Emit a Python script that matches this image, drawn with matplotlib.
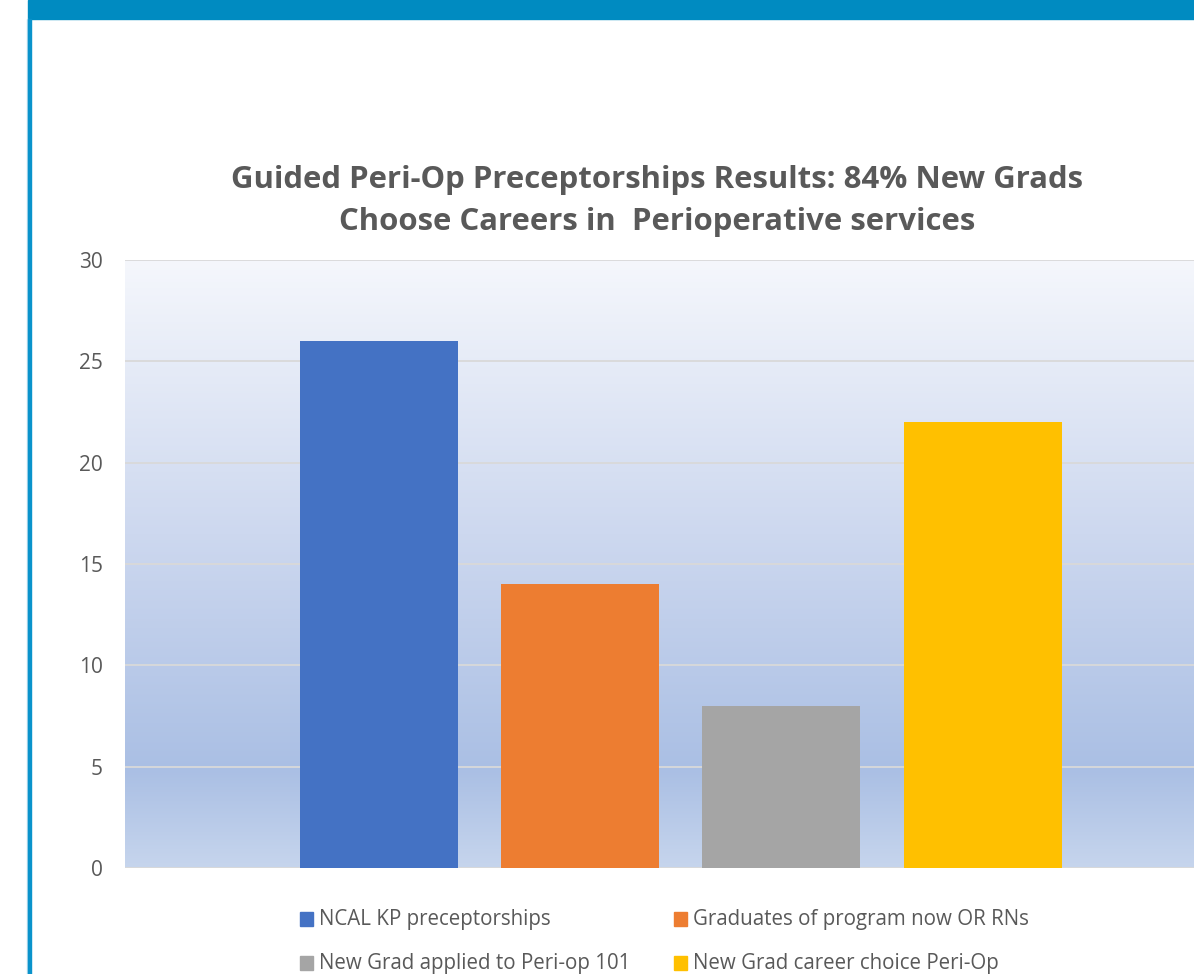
import matplotlib.pyplot as plt
import numpy as np
from matplotlib.colors import LinearSegmentedColormap
from matplotlib.patches import Rectangle

# data
labels = ["NCAL KP preceptorships", "Graduates of program now OR RNs",
          "New Grad applied to Peri-op 101", "New Grad career choice Peri-Op"]
values = [26, 14, 8, 22]
colors = ["#4472C4", "#ED7D31", "#A5A5A5", "#FFC000"]
yticks = [0, 5, 10, 15, 20, 25, 30]
title_lines = ["Guided Peri-Op Preceptorships Results: 84% New Grads",
               "Choose Careers in  Perioperative services"]

W, H = 1194, 974
fig = plt.figure(figsize=(W / 100, H / 100), dpi=100)
plt.rcParams['font.family'] = ['Open Sans', 'DejaVu Sans']

# slide frame: top band and left rule
fig.patches.append(Rectangle((28 / W, 1 - 19 / H), 1, 19 / H, transform=fig.transFigure,
                             color="#008BC1", zorder=0))
fig.patches.append(Rectangle((27 / W, 0), 1 / W, 1 - 19 / H, transform=fig.transFigure,
                             color="#B8DCEE", zorder=0))
fig.patches.append(Rectangle((28 / W, 0), 3 / W, 1 - 19 / H, transform=fig.transFigure,
                             color="#0A93CB", zorder=0))

ax = fig.add_axes([125 / W, 1 - 868 / H, 1 - 125 / W, (868 - 260) / H])

# gradient background
cmap = LinearSegmentedColormap.from_list(
    "bg", [(0.0, "#C6D5ED"), (0.16, "#AABFE4"), (0.55, "#CDD8EF"), (1.0, "#F5F7FC")])
xlim = (-1.26, 4.05)
grad = np.linspace(0, 1, 256).reshape(-1, 1)
ax.imshow(grad, cmap=cmap, origin="lower", aspect="auto",
          extent=(xlim[0], xlim[1], 0, 30), zorder=0)

x = np.arange(len(values))
ax.bar(x, values, width=0.785, color=colors, zorder=3)

ax.set_xlim(*xlim)
ax.set_ylim(0, 30)
ax.set_yticks(yticks)
for t in yticks:
    ax.axhline(t, color="#D9D9D9", lw=1.3, zorder=2)
ax.set_xticks([])
for s in ax.spines.values():
    s.set_visible(False)
ax.tick_params(axis="y", length=0, pad=16, labelsize=15, labelcolor="#595959")

for ty, line in zip([180, 222], title_lines):
    fig.text(657 / W, 1 - ty / H, line, ha="center", va="center", fontsize=22.4,
             fontweight="bold", color="#595959")

# legend, 2 x 2
col_x = [300, 674]
row_y = [919, 963]
for i, (lab, c) in enumerate(zip(labels, colors)):
    cx = col_x[i % 2]
    cy = row_y[i // 2]
    fig.patches.append(Rectangle((cx / W, 1 - (cy + 7) / H), 13 / W, 14 / H,
                                 transform=fig.transFigure, color=c))
    fig.text((cx + 19) / W, 1 - cy / H, lab, ha="left", va="center",
             fontsize=14.8, color="#595959")

fig.savefig("out.png", dpi=100)
